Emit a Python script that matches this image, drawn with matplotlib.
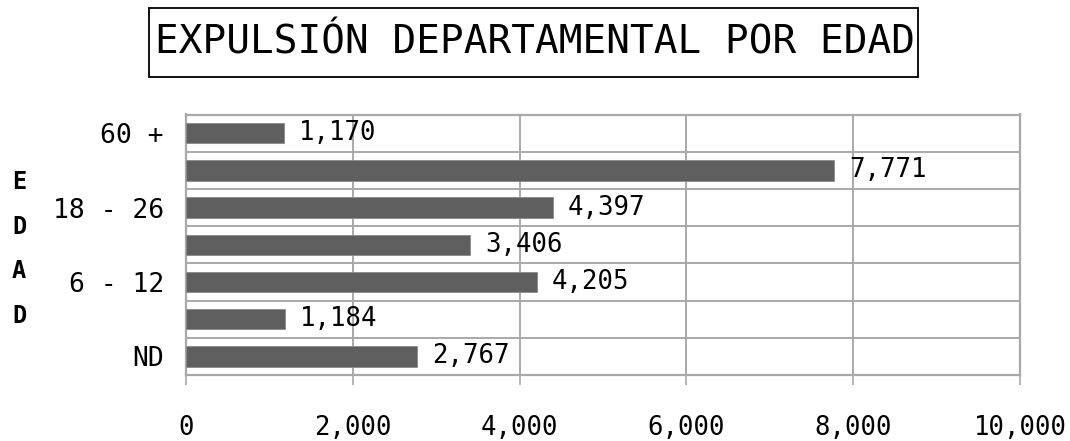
import matplotlib
matplotlib.use("Agg")
import matplotlib.pyplot as plt
from matplotlib.patches import Rectangle
from matplotlib.ticker import FuncFormatter, MultipleLocator, FixedLocator

# ---- data ----
categories = ["ND", "0 - 5", "6 - 12", "13 - 17", "18 - 26", "27 - 59", "60 +"]
values = [2767, 1184, 4205, 3406, 4397, 7771, 1170]
shown_labels = ["ND", "", "6 - 12", "", "18 - 26", "", "60 +"]
x_ticks = [0, 2000, 4000, 6000, 8000, 10000]
title = "EXPULSIÓN DEPARTAMENTAL POR EDAD"
ylabel = "E\nD\nA\nD"

FONT = ["DejaVu Sans Mono"]
BAR = "#5f5f5f"
GRID = "#a9a9a9"

plt.rcParams["font.family"] = FONT

fig = plt.figure(figsize=(10.70, 4.41), dpi=100)
ax = fig.add_axes([186 / 1070, 1 - 375 / 441, (1020 - 186) / 1070, (375 - 114.5) / 441])

ypos = list(range(len(categories)))
bars = ax.barh(ypos, values, height=0.55, color=BAR, edgecolor="#8a8a8a",
               linewidth=0.6, zorder=3)

ax.set_xlim(x_ticks[0], x_ticks[-1])
ax.set_ylim(-0.5, len(categories) - 0.5)

ax.xaxis.set_major_locator(FixedLocator(x_ticks))
ax.xaxis.set_major_formatter(FuncFormatter(lambda v, p: f"{v:,.0f}"))
ax.set_yticks(ypos)
ax.set_yticklabels(shown_labels)
ax.yaxis.set_minor_locator(MultipleLocator(1, offset=0.5))

ax.grid(axis="x", which="major", color=GRID, linewidth=1.4, zorder=0)
ax.grid(axis="y", which="minor", color=GRID, linewidth=1.4, zorder=0)
ax.grid(axis="y", which="major", visible=False)

for s in ax.spines.values():
    s.set_color(GRID)
    s.set_linewidth(1.6)

ax.tick_params(axis="x", which="major", direction="out", length=7.5, width=1.2,
               color=GRID, pad=21, labelsize=18.5)
ax.tick_params(axis="y", which="both", length=0, pad=16, labelsize=19)

ax.bar_label(bars, labels=[f"{v:,}" for v in values], padding=11, fontsize=18.5,
             zorder=4)

# title with box
fig.text(0.5, 1 - 42 / 441, title, ha="center", va="center", fontsize=28.4)
fig.add_artist(Rectangle((149 / 1070, 1 - 77 / 441), (918 - 149) / 1070, 69 / 441,
                         transform=fig.transFigure, fill=False,
                         edgecolor="black", linewidth=1.3))

# stacked y label
fig.text(19 / 1070, 1 - 249 / 441, ylabel, ha="center", va="center",
         fontsize=17, linespacing=2.1, fontweight="bold")

fig.savefig("out.png", dpi=100)
